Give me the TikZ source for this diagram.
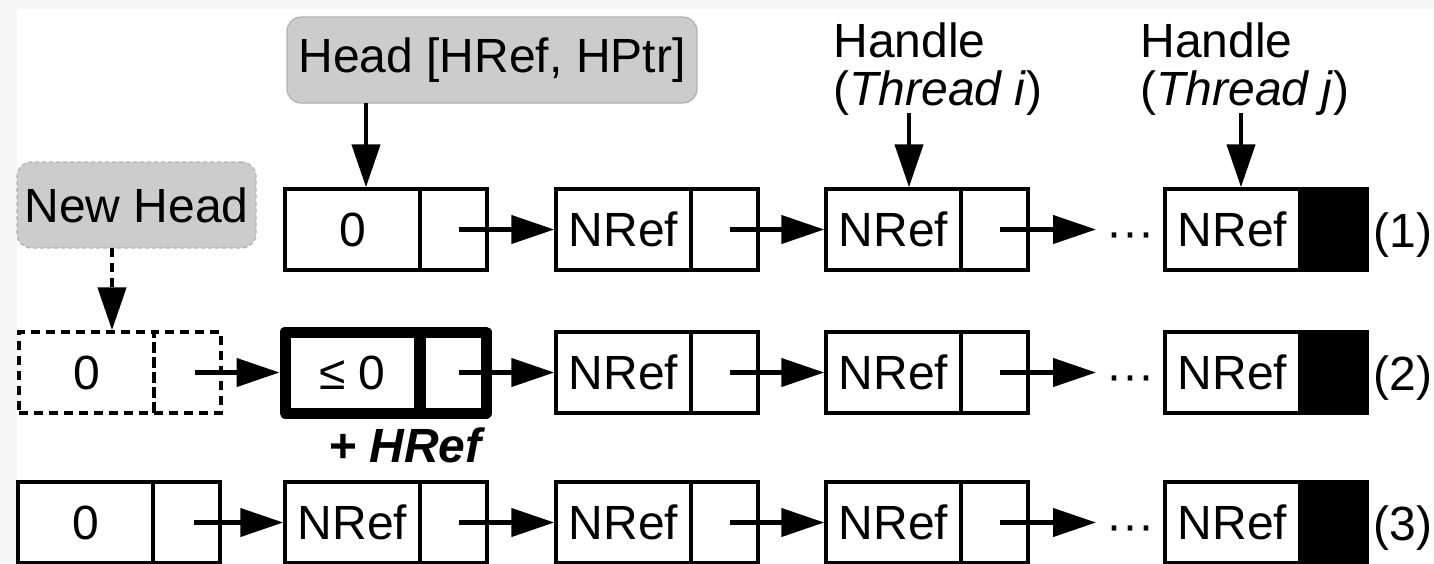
\documentclass[tikz,border=0pt]{standalone}
\usepackage{fontspec}
\setmainfont{Liberation Sans}
\usetikzlibrary{arrows.meta,calc}
\begin{document}
\begin{tikzpicture}[x=0.5pt,y=-0.5pt,
  every node/.style={font=\fontsize{24}{24}\selectfont, inner sep=0pt},
  cl/.style={draw, line width=1.75pt, minimum width=67.5pt, minimum height=40.5pt},
  cr/.style={cl, minimum width=33.5pt},
  heavy/.style={line width=5.5pt, line join=round},
  dbox/.style={dash pattern=on 4.5pt off 3pt},
  link/.style={line width=2.2pt, -{Triangle[length=21.5pt,width=14pt]}},
  tag/.style={draw=black!30, fill=black!20, rounded corners=7pt, line width=0.6pt, minimum height=43pt}
]
\fill[black!3] (0,0) rectangle (1434,563);
\fill[white] (17,9) rectangle (1433,563);
\useasboundingbox (0,0) rectangle (1434,563);

% labels at the top
\node[tag, minimum width=205pt] (head) at (492,60) {Head [HRef, HPtr]};
\node[tag, dash pattern=on 2pt off 1.5pt, minimum width=119.5pt] (nh) at (136.5,205) {New Head};
\node[anchor=north west, align=left] (hi) at (833,22) {Handle\\(\textit{Thread i})};
\node[anchor=north west, align=left] (hj) at (1140,22) {Handle\\(\textit{Thread j})};

% common columns 2..4 for all rows
\foreach \r/\y in {1/229.5, 2/372.5, 3/522.5} {
  \foreach \c/\x in {2/556, 3/826} {
    \node[cl] (L\r-\c) at (\x+67.5,\y) {NRef};
    \node[cr] (R\r-\c) at (\x+168.5,\y) {};
  }
  \node[cl] (L\r-4) at (1232.5,\y) {NRef};
  \node[cr, fill=black] (R\r-4) at (1333.5,\y) {};
  \node[anchor=base] (dots\r) at (1130,\y+18.5) {\textperiodcentered\textperiodcentered\textperiodcentered};
  \node[anchor=base] (lab\r) at (1403,\y+17.5) {(\r)};
  \coordinate (tip\r) at (1096,\y);
  \draw[link] ($(R\r-2.center)+(5,0)$) -- (L\r-3.west);
  \draw[link] ($(R\r-3.center)+(5,0)$) -- (tip\r);
}

% row 1
\node[cl] (L1-1) at (352.5,229.5) {0};
\node[cr] (R1-1) at (453.5,229.5) {};
\draw[link] ($(R1-1.center)+(5,0)$) -- (L1-2.west);

% row 2
\node[cl, dbox] (L2-0) at (86.5,372.5) {0};
\node[cr, dbox] (R2-0) at (187.5,372.5) {};
\node[cl, heavy] (L2-1) at (352.5,372.5) {≤ 0};
\node[cr, heavy] (R2-1) at (452.5,372.5) {};
\node[font=\fontsize{24}{24}\selectfont\bfseries\itshape] (plus) at (405,445) {+ HRef};
\draw[link] ($(R2-0.center)+(7,0)$) -- (L2-1.west);
\draw[link] ($(R2-1.center)+(6,0)$) -- (L2-2.west);

% row 3
\node[cl] (L3-0) at (85.5,522.5) {0};
\node[cr] (R3-0) at (186.5,522.5) {};
\node[cl] (L3-1) at (352.5,522.5) {NRef};
\node[cr] (R3-1) at (453.5,522.5) {};
\draw[link] ($(R3-0.center)+(7,0)$) -- (L3-1.west);
\draw[link] ($(R3-1.center)+(5,0)$) -- (L3-2.west);

% vertical pointers
\coordinate (ha) at (366,103);
\coordinate (ia) at (909,113);
\coordinate (ja) at (1241,113);
\coordinate (na) at (112,248);
\draw[link] (ha) -- (ha |- L1-1.north);
\draw[link] (ia) -- (ia |- L1-3.north);
\draw[link] (ja) -- (ja |- L1-4.north);
\draw[link, dash pattern=on 4.5pt off 3pt] (na) -- (na |- L2-0.north);
\end{tikzpicture}
\end{document}
